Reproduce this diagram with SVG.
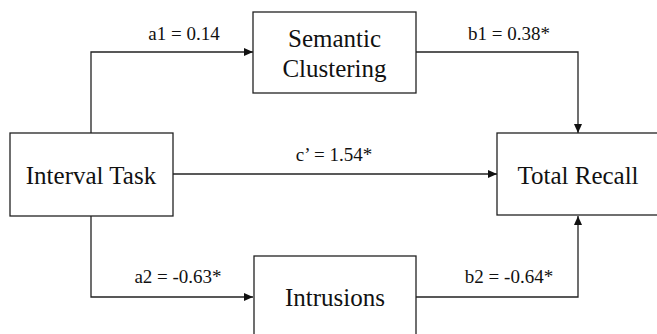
<svg xmlns="http://www.w3.org/2000/svg" width="657" height="334" viewBox="0 0 657 334">
<defs>
<marker id="arr" viewBox="0 0 9 8" refX="9" refY="4" markerWidth="9" markerHeight="8" markerUnits="userSpaceOnUse" orient="auto">
<path d="M0,0 L9,4 L0,8 z" fill="#111"/>
</marker>
<style>
.box{fill:#fff;stroke:#222;stroke-width:1.3}
.node{font-family:"Liberation Serif","Times New Roman",serif;font-size:25px;fill:#111;text-anchor:middle}
.lab{font-family:"Liberation Serif","Times New Roman",serif;font-size:19px;fill:#111;text-anchor:middle}
.edge{fill:none;stroke:#222;stroke-width:1.3;marker-end:url(#arr)}
</style>
</defs>
<rect width="657" height="334" fill="#fff"/>
<g id="connectors">
<path class="edge" d="M91,133 V52 H253"/>
<path class="edge" d="M416,52 H578 V133"/>
<path class="edge" d="M173,174 H497"/>
<path class="edge" d="M91,216 V297 H253"/>
<path class="edge" d="M416,297 H578 V216"/>
<text class="lab" x="184" y="40">a1 = 0.14</text>
<text class="lab" x="509" y="40">b1 = 0.38*</text>
<text class="lab" x="334" y="161">c’ = 1.54*</text>
<text class="lab" x="178" y="283">a2 = -0.63*</text>
<text class="lab" x="509" y="283">b2 = -0.64*</text>
</g>
<g id="interval">
<rect class="box" x="10" y="133" width="163" height="83"/>
<text class="node" x="91" y="184">Interval Task</text>
</g>
<g id="semantic">
<rect class="box" x="253" y="12" width="163" height="81"/>
<text class="node" x="334.5" y="47">Semantic</text>
<text class="node" x="334.5" y="77">Clustering</text>
</g>
<g id="recall">
<rect class="box" x="497" y="133" width="163" height="82"/>
<text class="node" x="578" y="184">Total Recall</text>
</g>
<g id="intrusions">
<rect class="box" x="254" y="256" width="162" height="82"/>
<text class="node" x="335" y="306">Intrusions</text>
</g>
</svg>
